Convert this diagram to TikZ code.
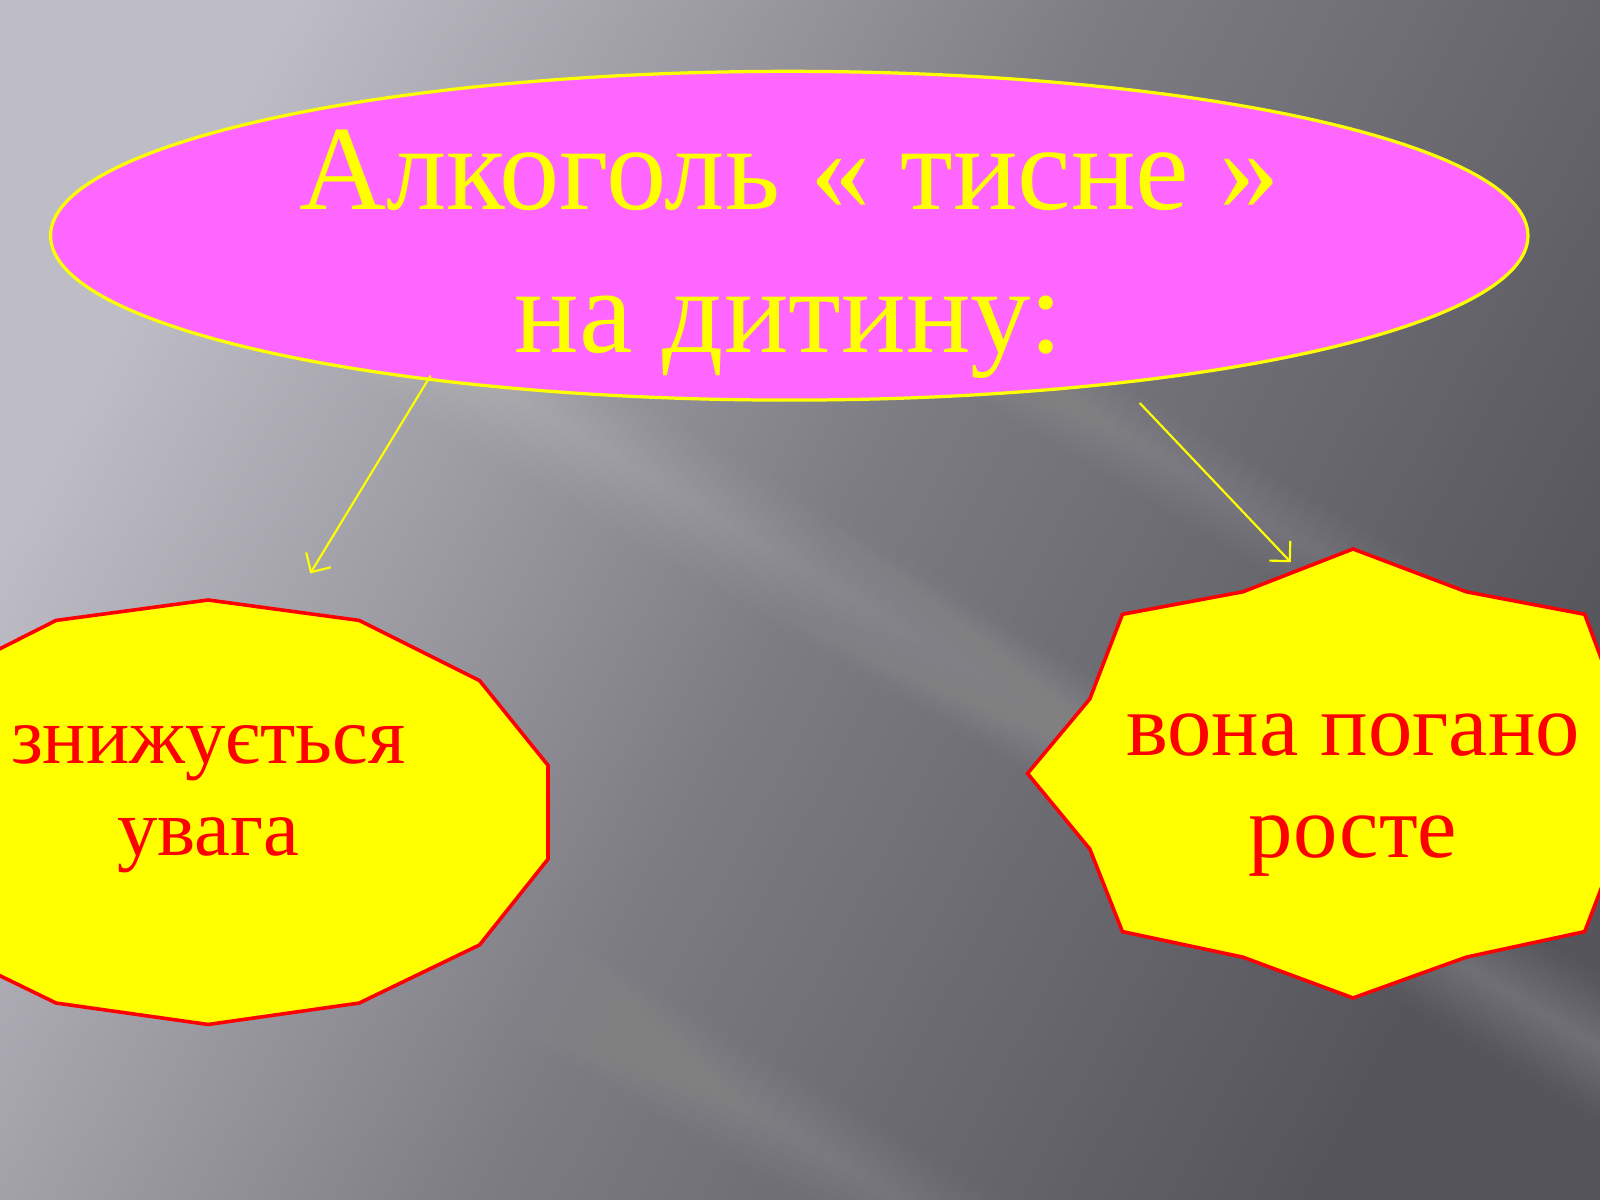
\documentclass[tikz,border=0pt]{standalone}
\usepackage{fontspec}
\setmainfont{Liberation Serif}
\usetikzlibrary{shapes.geometric,arrows.meta}
\definecolor{bgLight}{RGB}{190,189,197}
\definecolor{bgMid}{RGB}{125,124,131}
\definecolor{bgDark}{RGB}{86,85,92}
\definecolor{pinkfill}{RGB}{255,102,255}
\definecolor{yel}{RGB}{255,255,0}
\definecolor{redc}{RGB}{255,0,0}
\tikzset{
  bubble/.style={fill=yel, draw=redc, line width=1pt, line join=miter},
  toptext/.style={text=yel, font=\fontsize{33.6}{40}\selectfont, anchor=base, inner sep=0pt},
  boxtext/.style={text=redc, anchor=base, inner sep=0pt},
  lefttext/.style={boxtext, font=\fontsize{22.5}{27}\selectfont},
  righttext/.style={boxtext, font=\fontsize{24.7}{29}\selectfont},
  link/.style={draw=yel, line width=0.6pt, -{Straight Barb[length=4pt,width=8pt]}},
}
% soft light band: centre line y = #1 + 0.6 x, half width #2, peak opacity #3
\newcommand\lightband[3]{%
  \foreach \k in {1,...,12}{%
    \pgfmathsetmacro\hw{#2*\k/12}%
    \pgfmathsetmacro\ya{#1-\hw}%
    \pgfmathsetmacro\yb{#1+\hw}%
    \pgfmathsetmacro\yc{#1+1020+\hw}%
    \pgfmathsetmacro\yd{#1+1020-\hw}%
    \fill[white, opacity=#3/12] (-10,\ya) -- (-10,\yb) -- (1690,\yc) -- (1690,\yd) -- cycle;
  }%
}
\begin{document}
\begin{tikzpicture}[x=0.01cm,y=-0.01cm]
\useasboundingbox (0,0) rectangle (1568,1176);
\begin{scope}
\clip (0,0) rectangle (1568,1176);
% background
\fill[bgDark] (0,0) rectangle (1568,1176);
\shade[shading=axis, top color=bgLight, bottom color=bgDark, middle color=bgMid, shading angle=62] (0,0) rectangle (1568,1176);
% light streaks
\lightband{80}{70}{0.16}
\lightband{80}{60}{0.10}
\lightband{640}{60}{0.10}
\lightband{-240}{50}{0.08}
\lightband{630}{50}{0.06}
\lightband{-250}{40}{0.05}

% left shape
\path[bubble] (204,588) -- (352,608) -- (470,667) -- (537,750) -- (537,842) -- (470,926) -- (352,983) -- (204,1004) -- (55,983) -- (-62,926) -- (-129,842) -- (-129,750) -- (-62,667) -- (55,608) -- cycle;
% right shape
\path[bubble] (1326,538) -- (1437,580) -- (1553,602) -- (1584,685) -- (1645,758) -- (1584,832) -- (1553,913) -- (1437,938) -- (1326,978) -- (1218,938) -- (1100,913) -- (1068,832) -- (1007,758) -- (1068,685) -- (1100,602) -- (1218,580) -- cycle;
\end{scope}

% ellipse
\node[ellipse, fill=pinkfill, draw=yel, line width=0.9pt, minimum width=14.47cm, minimum height=3.22cm, inner sep=0pt] (main) at (773.5,231) {};
\node[toptext] (t1) at (774,205) {Алкоголь « тисне »};
\node[toptext] (t2) at (773,345) {на дитину:};

\node[lefttext] (l1) at (204,748) {знижується};
\node[lefttext] (l2) at (204,838) {увага};
\node[righttext] (r1) at (1326,740) {вона погано};
\node[righttext] (r2) at (1326,840) {росте};

\coordinate (la) at (422,368);
\coordinate (lb) at (304,562);
\coordinate (ra) at (1117,395);
\coordinate (rb) at (1265,551);
\draw[link] (la) -- (lb);
\draw[link] (ra) -- (rb);
\end{tikzpicture}
\end{document}
